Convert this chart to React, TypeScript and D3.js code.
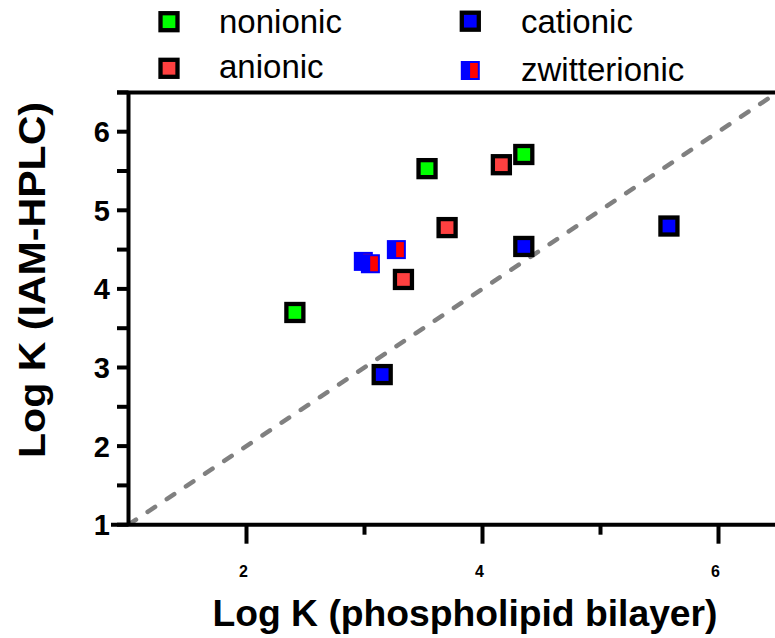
import React from "react";
import * as d3 from "d3";

const nonionicX = [3.53, 4.35, 2.41];
const nonionicY = [5.53, 5.71, 3.7];
const anionicX = [4.16, 3.7, 3.33];
const anionicY = [5.58, 4.78, 4.12];
const cationicX = [4.35, 5.58, 3.15];
const cationicY = [4.54, 4.8, 2.91];
const zwitterX = [2.99, 3.05, 3.27];
const zwitterY = [4.35, 4.32, 4.5];

const xMajorTicks = [2, 4, 6];
const xMinorTicks = [3, 5];
const yMajorTicks = [1, 2, 3, 4, 5, 6];
const yMinorTicks = [1.5, 2.5, 3.5, 4.5, 5.5, 6.5];

const xTitle = "Log K (phospholipid bilayer)";
const yTitle = "Log K (IAM-HPLC)";

const W = 775;
const H = 638;
const FONT = "'Liberation Sans', Arial, Helvetica, sans-serif";

const x = d3.scaleLinear().domain([1, 6.5]).range([128.5, 777.5]);
const y = d3.scaleLinear().domain([1, 6.5]).range([524.7, 92.4]);

const GREEN = "#00ff00";
const RED = "#ff4040";
const BLUE = "#0000ff";

function Sq({ cx, cy, fill }: { cx: number; cy: number; fill: string }) {
  return (
    <rect x={cx - 8.5} y={cy - 8.5} width={17} height={17} fill={fill} stroke="#000" strokeWidth={4.3} />
  );
}

function Zw({ cx, cy }: { cx: number; cy: number }) {
  return (
    <g>
      <rect x={cx - 9.5} y={cy - 9.5} width={19} height={19} fill={BLUE} />
      <rect x={cx - 0.2} y={cy - 7.5} width={7.7} height={15} fill="#ff0000" />
    </g>
  );
}

export default function App() {
  const x0 = x(1);
  const y0 = y(1);
  return (
    <svg width={W} height={H} style={{ position: "absolute", left: 0, top: 0, background: "#fff" }} fontFamily={FONT}>
      <defs>
        <clipPath id="plot">
          <rect x={x0} y={y(6.5)} width={W - x0} height={y0 - y(6.5)} />
        </clipPath>
      </defs>
      {/* diagonal identity line */}
      <line
        x1={x(1)} y1={y(1)} x2={x(6.5)} y2={y(6.5)}
        stroke="#808080" strokeWidth={4.5} strokeDasharray="9 14" strokeLinecap="round"
        clipPath="url(#plot)"
      />
      {/* axes */}
      <line x1={x0} y1={y(6.5)} x2={x0} y2={y0} stroke="#000" strokeWidth={4} />
      <line x1={111} y1={y0} x2={W} y2={y0} stroke="#000" strokeWidth={4} />
      <line x1={117} y1={y(6.5)} x2={W} y2={y(6.5)} stroke="#000" strokeWidth={4} />
      {[...yMajorTicks, ...yMinorTicks].map((t) => (
        <line key={"yt" + t} x1={117} x2={x0} y1={y(t)} y2={y(t)} stroke="#000" strokeWidth={4} />
      ))}
      {yMajorTicks.map((t) => (
        <text key={"yl" + t} x={110} y={y(t) + 10.5} textAnchor="end" fontSize={29} fontWeight="bold">
          {t}
        </text>
      ))}
      {xMajorTicks.map((t) => (
        <line key={"xt" + t} x1={x(t)} x2={x(t)} y1={y0} y2={y0 + 19} stroke="#000" strokeWidth={4} />
      ))}
      {xMinorTicks.map((t) => (
        <line key={"xm" + t} x1={x(t)} x2={x(t)} y1={y0} y2={y0 + 10} stroke="#000" strokeWidth={4} />
      ))}
      {xMajorTicks.map((t) => (
        <text key={"xl" + t} x={x(t) - 3} y={577} textAnchor="middle" fontSize={16} fontWeight="bold">
          {t}
        </text>
      ))}
      {/* titles */}
      <text x={465} y={626} textAnchor="middle" fontSize={36} fontWeight="bold" textLength={505} lengthAdjust="spacingAndGlyphs">
        {xTitle}
      </text>
      <text
        transform={`translate(45,280) rotate(-90)`}
        textAnchor="middle" fontSize={36} fontWeight="bold" textLength={356} lengthAdjust="spacingAndGlyphs"
      >
        {yTitle}
      </text>
      {/* data */}
      {nonionicX.map((v, i) => (
        <Sq key={"n" + i} cx={x(v)} cy={y(nonionicY[i])} fill={GREEN} />
      ))}
      {anionicX.map((v, i) => (
        <Sq key={"a" + i} cx={x(v)} cy={y(anionicY[i])} fill={RED} />
      ))}
      {cationicX.map((v, i) => (
        <Sq key={"c" + i} cx={x(v)} cy={y(cationicY[i])} fill={BLUE} />
      ))}
      {zwitterX.map((v, i) => (
        <Zw key={"z" + i} cx={x(v)} cy={y(zwitterY[i])} />
      ))}
      {/* legend */}
      <Sq cx={169} cy={21.7} fill={GREEN} />
      <text x={219} y={33.3} fontSize={33}>nonionic</text>
      <Sq cx={169} cy={68.3} fill={RED} />
      <text x={219} y={77.5} fontSize={33}>anionic</text>
      <Sq cx={470.3} cy={21.2} fill={BLUE} />
      <text x={521} y={33.3} fontSize={33}>cationic</text>
      <Zw cx={470.3} cy={70.5} />
      <text x={521} y={81} fontSize={33}>zwitterionic</text>
    </svg>
  );
}
